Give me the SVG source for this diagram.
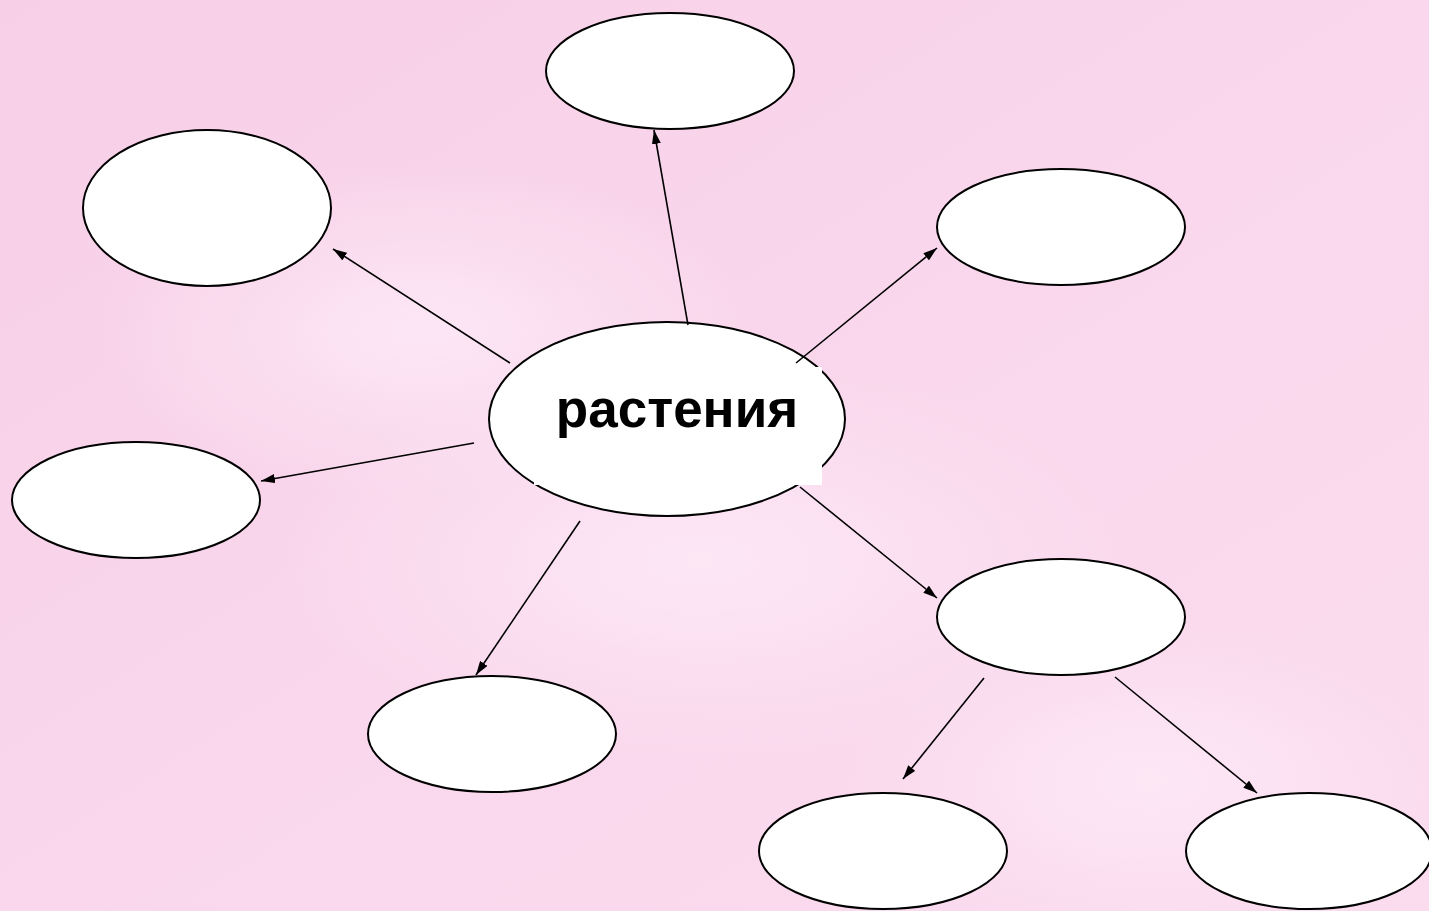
<svg xmlns="http://www.w3.org/2000/svg" width="1429" height="911" viewBox="0 0 1429 911">
<defs>
<linearGradient id="bg" x1="0" y1="0" x2="1" y2="1">
<stop offset="0" stop-color="#f7cfe7"/>
<stop offset="0.45" stop-color="#f9d6ec"/>
<stop offset="1" stop-color="#fbdcef"/>
</linearGradient>
<radialGradient id="hl" cx="0.5" cy="0.5" r="0.5">
<stop offset="0" stop-color="#fde9f6" stop-opacity="0.9"/>
<stop offset="1" stop-color="#fde9f6" stop-opacity="0"/>
</radialGradient>
<marker id="ah" viewBox="0 0 14 9" refX="14" refY="4.5" markerWidth="14" markerHeight="9" markerUnits="userSpaceOnUse" orient="auto">
<path d="M0,0 L14,4.5 L0,9 Z" fill="#000"/>
</marker>
<style>
.n{fill:#fff;stroke:#000;stroke-width:2}
.c{stroke:#000;stroke-width:1.6;fill:none;marker-end:url(#ah)}
.t{font-family:"Liberation Sans",Arial,sans-serif;font-weight:bold;font-size:53px;fill:#000}
</style>
</defs>
<rect width="1429" height="911" fill="url(#bg)"/>
<ellipse cx="420" cy="330" rx="330" ry="170" fill="url(#hl)"/>
<ellipse cx="700" cy="560" rx="420" ry="200" fill="url(#hl)"/>
<ellipse cx="1150" cy="780" rx="300" ry="160" fill="url(#hl)"/>
<g id="center">
<ellipse class="n" cx="667" cy="419" rx="178" ry="97"/>
<rect x="534" y="367" width="288" height="118" fill="#fff"/>
<text class="t" x="677" y="427" text-anchor="middle">растения</text>
</g>
<g id="top"><ellipse class="n" cx="670" cy="71" rx="124" ry="58"/></g>
<g id="topleft"><ellipse class="n" cx="207" cy="208" rx="124" ry="78"/></g>
<g id="topright"><ellipse class="n" cx="1061" cy="227" rx="124" ry="58"/></g>
<g id="left"><ellipse class="n" cx="136" cy="500" rx="124" ry="58"/></g>
<g id="bottom"><ellipse class="n" cx="492" cy="734" rx="124" ry="58"/></g>
<g id="right"><ellipse class="n" cx="1061" cy="617" rx="124" ry="58"/></g>
<g id="bottommid"><ellipse class="n" cx="883" cy="851" rx="124" ry="58"/></g>
<g id="bottomright"><ellipse class="n" cx="1309" cy="851" rx="123" ry="58"/></g>
<g id="connectors">
<line class="c" x1="688" y1="325" x2="654" y2="130"/>
<line class="c" x1="510" y1="363" x2="333" y2="249"/>
<line class="c" x1="796" y1="363" x2="937" y2="248"/>
<line class="c" x1="474" y1="443" x2="261" y2="481"/>
<line class="c" x1="580" y1="521" x2="476" y2="675"/>
<line class="c" x1="800" y1="487" x2="937" y2="598"/>
<line class="c" x1="984" y1="678" x2="903" y2="779"/>
<line class="c" x1="1115" y1="677" x2="1257" y2="793"/>
</g>
</svg>
